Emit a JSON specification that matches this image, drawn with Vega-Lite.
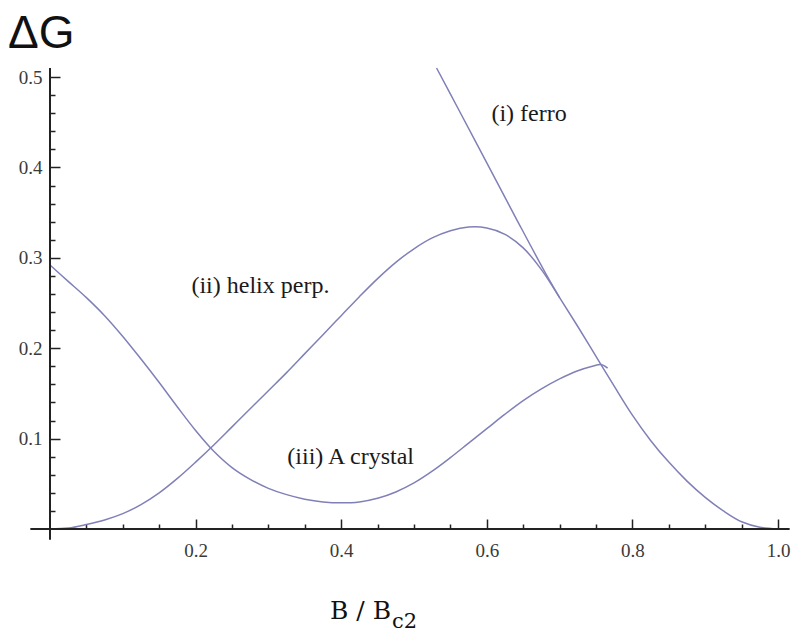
{
  "$schema": "https://vega.github.io/schema/vega-lite/v6.json",
  "width": 728,
  "height": 461,
  "autosize": "none",
  "padding": {"left": 50, "top": 68, "right": 18, "bottom": 104},
  "background": "white",
  "config": {"view": {"stroke": null}},
  "datasets": {
    "curves": [
      {"curve": "iii", "B": 0.0, "dG": 0.292},
      {"curve": "iii", "B": 0.025, "dG": 0.274},
      {"curve": "iii", "B": 0.05, "dG": 0.256},
      {"curve": "iii", "B": 0.075, "dG": 0.236},
      {"curve": "iii", "B": 0.1, "dG": 0.213},
      {"curve": "iii", "B": 0.125, "dG": 0.188},
      {"curve": "iii", "B": 0.15, "dG": 0.162},
      {"curve": "iii", "B": 0.175, "dG": 0.135},
      {"curve": "iii", "B": 0.2, "dG": 0.109},
      {"curve": "iii", "B": 0.225, "dG": 0.086},
      {"curve": "iii", "B": 0.25, "dG": 0.068},
      {"curve": "iii", "B": 0.275, "dG": 0.055},
      {"curve": "iii", "B": 0.3, "dG": 0.045},
      {"curve": "iii", "B": 0.325, "dG": 0.038},
      {"curve": "iii", "B": 0.35, "dG": 0.033},
      {"curve": "iii", "B": 0.375, "dG": 0.03},
      {"curve": "iii", "B": 0.4, "dG": 0.029},
      {"curve": "iii", "B": 0.425, "dG": 0.03},
      {"curve": "iii", "B": 0.45, "dG": 0.034},
      {"curve": "iii", "B": 0.475, "dG": 0.041},
      {"curve": "iii", "B": 0.5, "dG": 0.051},
      {"curve": "iii", "B": 0.525, "dG": 0.064},
      {"curve": "iii", "B": 0.55, "dG": 0.079},
      {"curve": "iii", "B": 0.575, "dG": 0.095},
      {"curve": "iii", "B": 0.6, "dG": 0.111},
      {"curve": "iii", "B": 0.625, "dG": 0.127},
      {"curve": "iii", "B": 0.65, "dG": 0.142},
      {"curve": "iii", "B": 0.675, "dG": 0.155},
      {"curve": "iii", "B": 0.7, "dG": 0.166},
      {"curve": "iii", "B": 0.725, "dG": 0.175},
      {"curve": "iii", "B": 0.745, "dG": 0.18},
      {"curve": "iii", "B": 0.757, "dG": 0.182},
      {"curve": "iii", "B": 0.766, "dG": 0.178},
      {"curve": "ii", "B": 0.0, "dG": 0.0},
      {"curve": "ii", "B": 0.025, "dG": 0.001},
      {"curve": "ii", "B": 0.05, "dG": 0.005},
      {"curve": "ii", "B": 0.075, "dG": 0.01},
      {"curve": "ii", "B": 0.1, "dG": 0.017},
      {"curve": "ii", "B": 0.125, "dG": 0.027},
      {"curve": "ii", "B": 0.15, "dG": 0.04},
      {"curve": "ii", "B": 0.175, "dG": 0.056},
      {"curve": "ii", "B": 0.2, "dG": 0.074},
      {"curve": "ii", "B": 0.225, "dG": 0.093},
      {"curve": "ii", "B": 0.25, "dG": 0.113},
      {"curve": "ii", "B": 0.275, "dG": 0.133},
      {"curve": "ii", "B": 0.3, "dG": 0.153},
      {"curve": "ii", "B": 0.325, "dG": 0.173},
      {"curve": "ii", "B": 0.35, "dG": 0.194},
      {"curve": "ii", "B": 0.375, "dG": 0.215},
      {"curve": "ii", "B": 0.4, "dG": 0.236},
      {"curve": "ii", "B": 0.425, "dG": 0.257},
      {"curve": "ii", "B": 0.45, "dG": 0.277},
      {"curve": "ii", "B": 0.475, "dG": 0.295},
      {"curve": "ii", "B": 0.5, "dG": 0.31},
      {"curve": "ii", "B": 0.525, "dG": 0.322},
      {"curve": "ii", "B": 0.55, "dG": 0.33},
      {"curve": "ii", "B": 0.575, "dG": 0.334},
      {"curve": "ii", "B": 0.6, "dG": 0.333},
      {"curve": "ii", "B": 0.625, "dG": 0.326},
      {"curve": "ii", "B": 0.65, "dG": 0.311},
      {"curve": "ii", "B": 0.675, "dG": 0.287},
      {"curve": "ii", "B": 0.7, "dG": 0.256},
      {"curve": "ii", "B": 0.725, "dG": 0.224},
      {"curve": "ii", "B": 0.75, "dG": 0.191},
      {"curve": "ii", "B": 0.775, "dG": 0.158},
      {"curve": "ii", "B": 0.8, "dG": 0.126},
      {"curve": "ii", "B": 0.825, "dG": 0.098},
      {"curve": "ii", "B": 0.85, "dG": 0.074},
      {"curve": "ii", "B": 0.875, "dG": 0.053},
      {"curve": "ii", "B": 0.9, "dG": 0.035},
      {"curve": "ii", "B": 0.925, "dG": 0.02},
      {"curve": "ii", "B": 0.95, "dG": 0.008},
      {"curve": "ii", "B": 0.975, "dG": 0.002},
      {"curve": "ii", "B": 1.0, "dG": 0.0},
      {"curve": "i", "B": 0.531, "dG": 0.51},
      {"curve": "i", "B": 0.56, "dG": 0.466},
      {"curve": "i", "B": 0.6, "dG": 0.405},
      {"curve": "i", "B": 0.64, "dG": 0.344},
      {"curve": "i", "B": 0.68, "dG": 0.284},
      {"curve": "i", "B": 0.7, "dG": 0.256}
    ],
    "labels": [
      {"text": "(i) ferro", "B": 0.658, "dG": 0.451},
      {"text": "(ii) helix perp.", "B": 0.289, "dG": 0.261},
      {"text": "(iii) A crystal", "B": 0.413, "dG": 0.072}
    ],
    "one": [{}]
  },
  "resolve": {"axis": {"x": "independent", "y": "independent"}},
  "layer": [
    {
      "data": {"name": "curves"},
      "mark": {"type": "line", "color": "#8080b8", "strokeWidth": 1.5, "interpolate": "catmull-rom"},
      "encoding": {
        "x": {
          "field": "B", "type": "quantitative",
          "scale": {"domain": [0, 1], "nice": false, "zero": false},
          "axis": {
            "orient": "bottom", "title": null, "domain": false, "grid": false,
            "values": [0.2, 0.4, 0.6, 0.8, 1.0], "format": ".1f",
            "tickColor": "#222", "tickWidth": 1.5, "tickSize": -10,
            "labelOverlap": false, "labelFlush": false, "labelPadding": 22,
            "labelFont": "Liberation Serif", "labelFontSize": 19, "labelColor": "#3a3a3a"
          }
        },
        "y": {
          "field": "dG", "type": "quantitative",
          "scale": {"domain": [0, 0.51], "nice": false, "zero": false},
          "axis": {
            "orient": "left", "title": null, "domain": false, "grid": false,
            "values": [0.1, 0.2, 0.3, 0.4, 0.5], "format": ".1f",
            "tickColor": "#222", "tickWidth": 1.5, "tickSize": -10,
            "labelOverlap": false, "labelFlush": false, "labelPadding": 18,
            "labelFont": "Liberation Serif", "labelFontSize": 19, "labelColor": "#3a3a3a"
          }
        },
        "detail": {"field": "curve"}
      }
    },
    {
      "data": {"name": "labels"},
      "mark": {"type": "text", "font": "Liberation Serif", "fontSize": 24, "color": "#1a1a1a", "align": "center", "baseline": "alphabetic"},
      "encoding": {
        "x": {
          "field": "B", "type": "quantitative",
          "axis": {
            "orient": "bottom", "title": null, "domain": false, "grid": false, "labels": false,
            "values": [0.05, 0.1, 0.15, 0.25, 0.3, 0.35, 0.45, 0.5, 0.55, 0.65, 0.7, 0.75, 0.85, 0.9, 0.95],
            "tickColor": "#222", "tickWidth": 1.5, "tickSize": -5
          }
        },
        "y": {
          "field": "dG", "type": "quantitative",
          "axis": {
            "orient": "left", "title": null, "domain": false, "grid": false, "labels": false,
            "values": [0.02, 0.04, 0.06, 0.08, 0.12, 0.14, 0.16, 0.18, 0.22, 0.24, 0.26, 0.28, 0.32, 0.34, 0.36, 0.38, 0.42, 0.44, 0.46, 0.48],
            "tickColor": "#222", "tickWidth": 1.5, "tickSize": -5
          }
        },
        "text": {"field": "text"}
      }
    },
    {
      "data": {"name": "one"},
      "mark": {"type": "rule", "color": "#222", "strokeWidth": 2},
      "encoding": {"x": {"datum": -0.027, "axis": null}, "x2": {"datum": 1.016}, "y": {"datum": 0, "axis": null}}
    },
    {
      "data": {"name": "one"},
      "mark": {"type": "rule", "color": "#222", "strokeWidth": 2},
      "encoding": {"x": {"datum": 0, "axis": null}, "y": {"datum": -0.012, "axis": null}, "y2": {"datum": 0.51}}
    },
    {
      "data": {"name": "one"},
      "mark": {"type": "text", "font": "Liberation Sans", "fontSize": 46, "color": "#111", "align": "center", "baseline": "alphabetic"},
      "encoding": {"x": {"datum": -0.012, "axis": null}, "y": {"datum": 0.532, "axis": null}, "text": {"value": "ΔG"}}
    },
    {
      "data": {"name": "one"},
      "mark": {"type": "text", "font": "DejaVu Serif", "fontSize": 25, "color": "#111", "align": "left", "baseline": "alphabetic"},
      "encoding": {"x": {"datum": 0.3846, "axis": null}, "y": {"datum": -0.0996, "axis": null}, "text": {"value": "B / B"}}
    },
    {
      "data": {"name": "one"},
      "mark": {"type": "text", "font": "DejaVu Serif", "fontSize": 21, "color": "#111", "align": "left", "baseline": "alphabetic"},
      "encoding": {"x": {"datum": 0.4698, "axis": null}, "y": {"datum": -0.1095, "axis": null}, "text": {"value": "c2"}}
    }
  ]
}
